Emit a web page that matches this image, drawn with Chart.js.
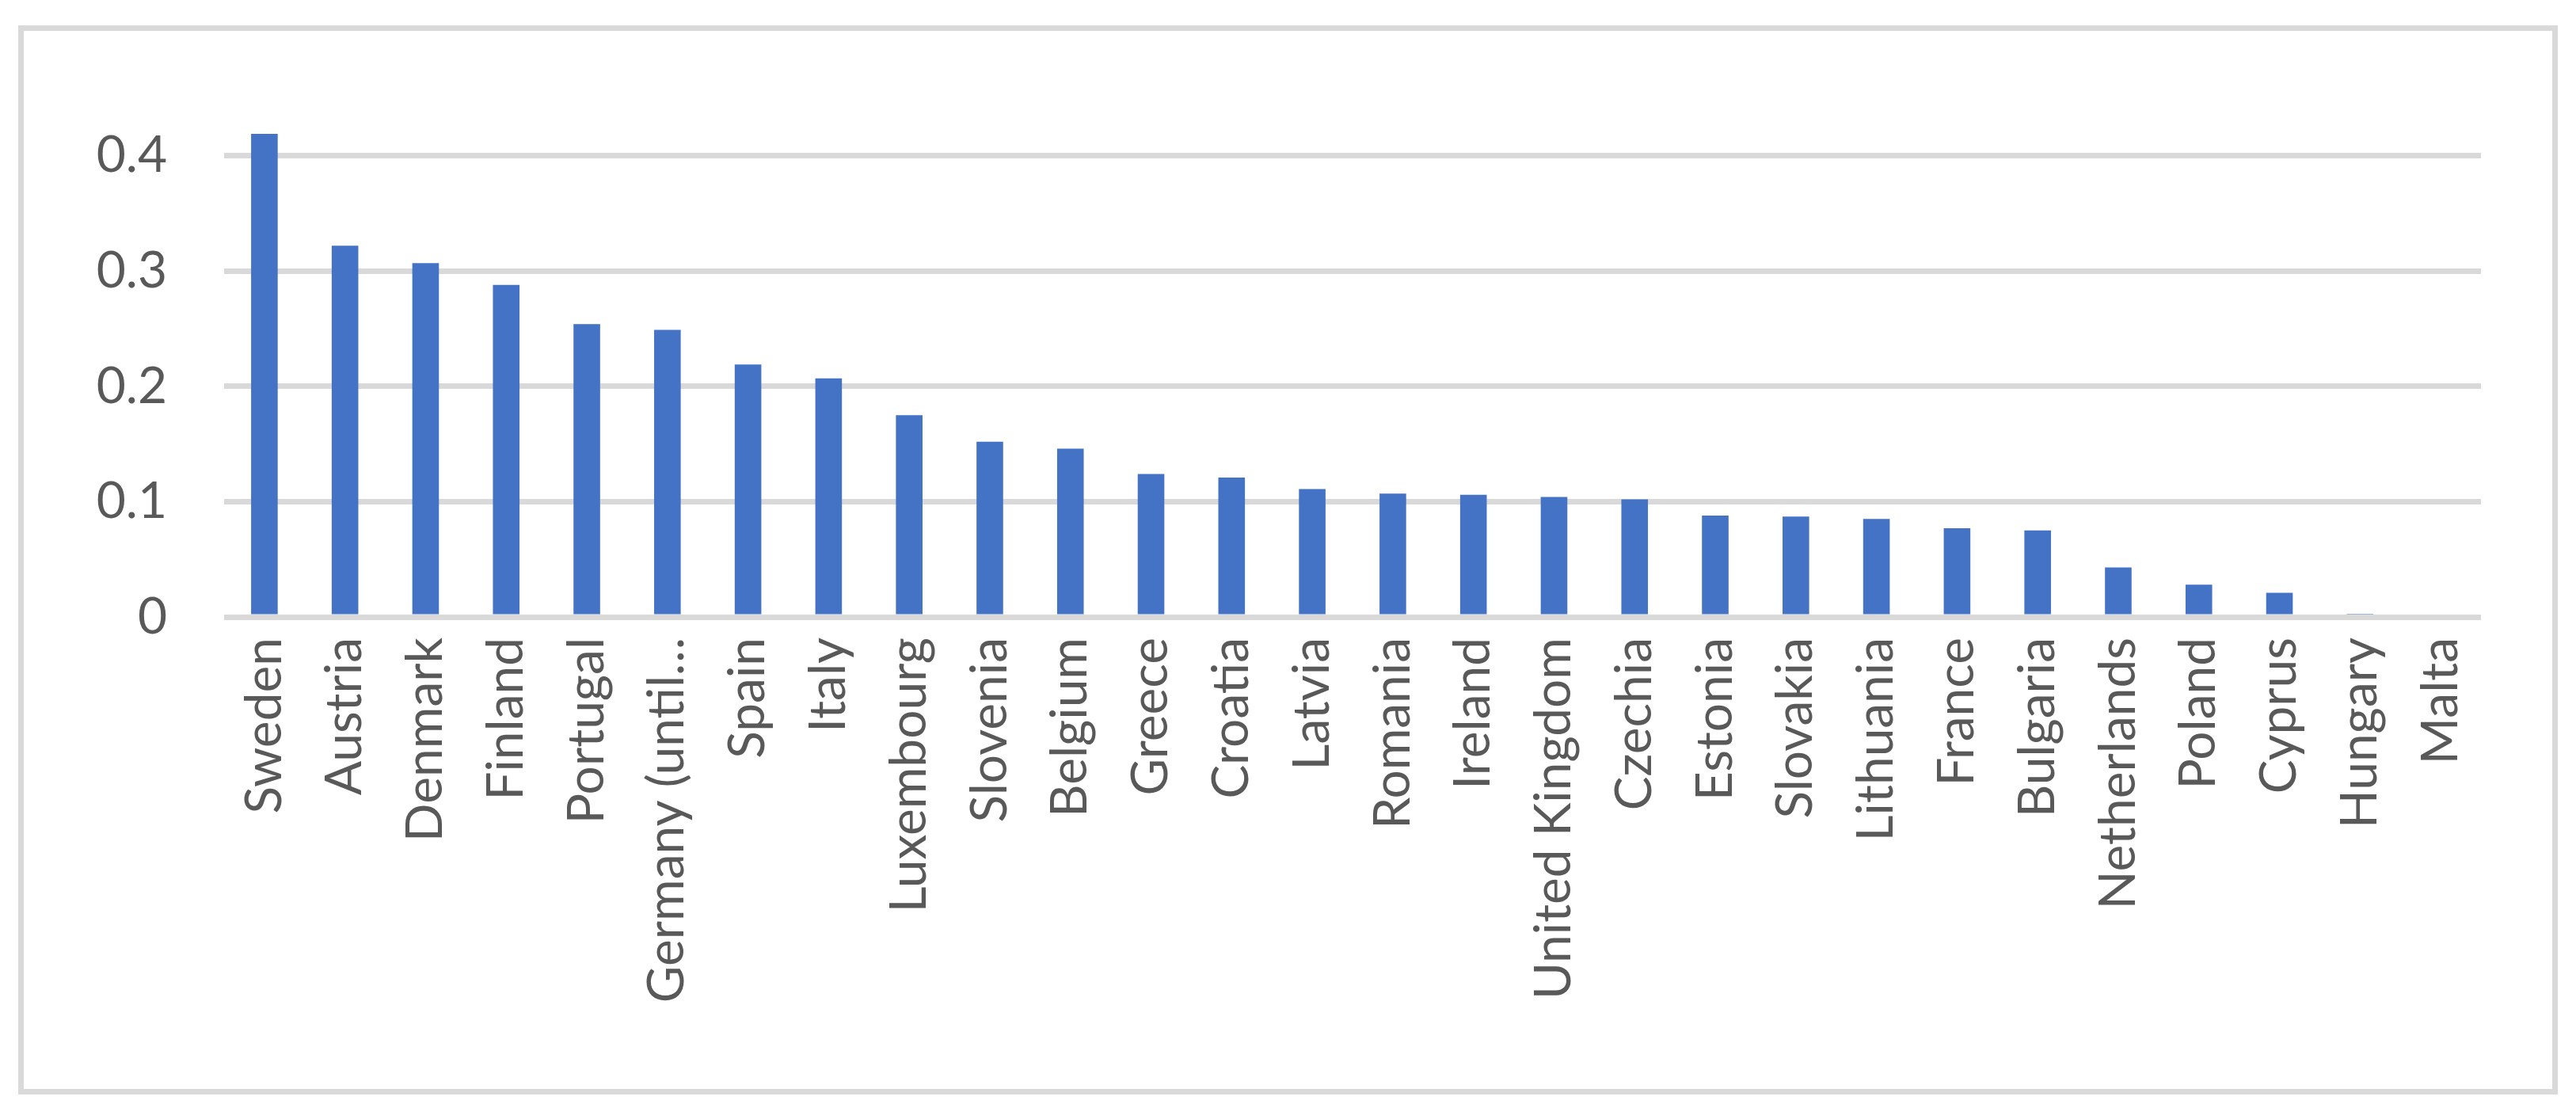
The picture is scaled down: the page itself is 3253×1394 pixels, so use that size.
<!DOCTYPE html>
<html>
<head>
<meta charset="utf-8">
<script src="https://cdn.jsdelivr.net/npm/chart.js@4"></script>
<style>
  html, body { margin: 0; padding: 0; background: #fff; }
  #wrap { position: absolute; left: 0; top: 0; width: 3253px; height: 1394px; }
  #frame { position: absolute; left: 23px; top: 32px; width: 3193px; height: 1336px; border: 7px solid #d9d9d9; }
</style>
</head>
<body>
<div id="frame"></div>
<div id="wrap"><canvas id="chart"></canvas></div>
<script>
const countries = ['Sweden', 'Austria', 'Denmark', 'Finland', 'Portugal', 'Germany (until…', 'Spain', 'Italy',
  'Luxembourg', 'Slovenia', 'Belgium', 'Greece', 'Croatia', 'Latvia', 'Romania', 'Ireland', 'United Kingdom',
  'Czechia', 'Estonia', 'Slovakia', 'Lithuania', 'France', 'Bulgaria', 'Netherlands', 'Poland', 'Cyprus',
  'Hungary', 'Malta'];
const values = [0.419, 0.322, 0.307, 0.288, 0.254, 0.249, 0.219, 0.207, 0.175, 0.152, 0.146, 0.124, 0.121,
  0.111, 0.107, 0.106, 0.104, 0.102, 0.088, 0.087, 0.085, 0.077, 0.075, 0.043, 0.028, 0.021, 0.002, 0];
const yTicks = [0, 0.05, 0.1, 0.15, 0.2, 0.25, 0.3, 0.35, 0.4, 0.45];

const font = { family: 'Lato, "Open Sans", sans-serif', size: 64 };

new Chart(document.getElementById('chart'), {
  type: 'bar',
  data: {
    labels: countries,
    datasets: [{
      data: values,
      backgroundColor: '#4472c4',
      barPercentage: 0.33,
      categoryPercentage: 1
    }]
  },
  options: {
    responsive: true,
    maintainAspectRatio: false,
    animation: false,
    layout: { padding: { left: 0, top: 124, right: 120, bottom: 0 } },
    plugins: { legend: { display: false }, tooltip: { enabled: false } },
    scales: {
      x: {
        grid: { display: false },
        border: { display: false },
        ticks: { color: '#595959', font: font, maxRotation: 90, minRotation: 90, autoSkip: false, padding: 18 },
        afterFit: s => { s.height = 615; }
      },
      y: {
        min: 0,
        max: 0.45,
        afterBuildTicks: s => { s.ticks = yTicks.map(v => ({ value: v })); },
        grid: { color: '#d9d9d9', lineWidth: 7, drawTicks: false },
        border: { display: false },
        ticks: { color: '#595959', font: font, padding: 72, callback: v => String(v) },
        afterFit: s => { s.width = 283; }
      }
    }
  }
});
</script>
</body>
</html>
